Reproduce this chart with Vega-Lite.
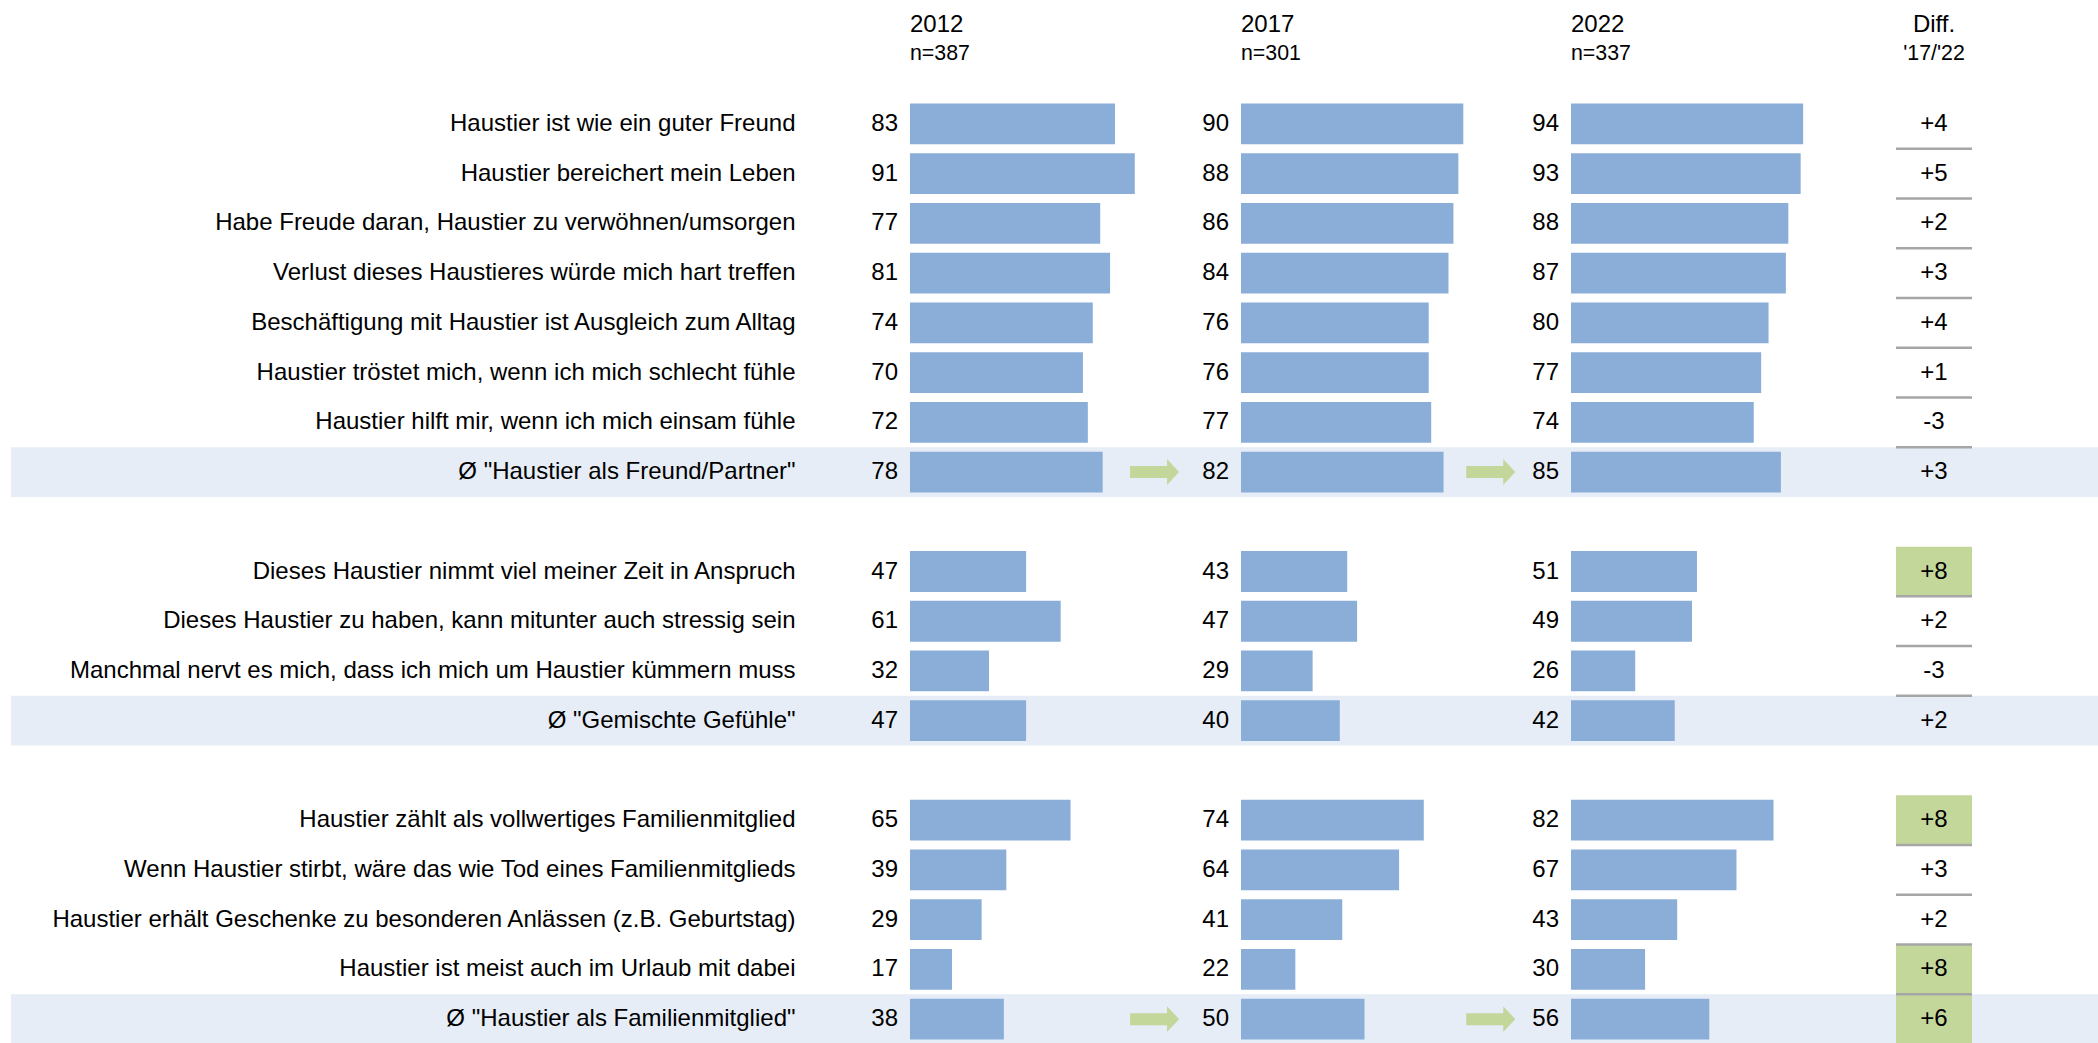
{
  "$schema": "https://vega.github.io/schema/vega-lite/v6.json",
  "padding": {"left": 11, "top": 12, "right": 0, "bottom": 0},
  "bounds": "flush",
  "spacing": 0,
  "config": {
    "font": "Liberation Sans",
    "view": {"stroke": null},
    "text": {"font": "Liberation Sans", "fontSize": 24, "color": "#000000"},
    "title": {"font": "Liberation Sans", "fontSize": 24, "fontWeight": "normal", "color": "#000000", "subtitleFont": "Liberation Sans", "subtitleFontSize": 21.33, "subtitleColor": "#000000", "offset": 35, "subtitlePadding": 6}
  },
  "datasets": {
    "rows": [
      {"item": "Haustier ist wie ein guter Freund", "v12": 83, "v17": 90, "v22": 94, "diff": "+4", "sig": false, "avg": false, "arrow": false},
      {"item": "Haustier bereichert mein Leben", "v12": 91, "v17": 88, "v22": 93, "diff": "+5", "sig": false, "avg": false, "arrow": false},
      {"item": "Habe Freude daran, Haustier zu verwöhnen/umsorgen", "v12": 77, "v17": 86, "v22": 88, "diff": "+2", "sig": false, "avg": false, "arrow": false},
      {"item": "Verlust dieses Haustieres würde mich hart treffen", "v12": 81, "v17": 84, "v22": 87, "diff": "+3", "sig": false, "avg": false, "arrow": false},
      {"item": "Beschäftigung mit Haustier ist Ausgleich zum Alltag", "v12": 74, "v17": 76, "v22": 80, "diff": "+4", "sig": false, "avg": false, "arrow": false},
      {"item": "Haustier tröstet mich, wenn ich mich schlecht fühle", "v12": 70, "v17": 76, "v22": 77, "diff": "+1", "sig": false, "avg": false, "arrow": false},
      {"item": "Haustier hilft mir, wenn ich mich einsam fühle", "v12": 72, "v17": 77, "v22": 74, "diff": "-3", "sig": false, "avg": false, "arrow": false},
      {"item": "Ø \"Haustier als Freund/Partner\"", "v12": 78, "v17": 82, "v22": 85, "diff": "+3", "sig": false, "avg": true, "arrow": true},
      {"item": "Dieses Haustier nimmt viel meiner Zeit in Anspruch", "v12": 47, "v17": 43, "v22": 51, "diff": "+8", "sig": true, "avg": false, "arrow": false},
      {"item": "Dieses Haustier zu haben, kann mitunter auch stressig sein", "v12": 61, "v17": 47, "v22": 49, "diff": "+2", "sig": false, "avg": false, "arrow": false},
      {"item": "Manchmal nervt es mich, dass ich mich um Haustier kümmern muss", "v12": 32, "v17": 29, "v22": 26, "diff": "-3", "sig": false, "avg": false, "arrow": false},
      {"item": "Ø \"Gemischte Gefühle\"", "v12": 47, "v17": 40, "v22": 42, "diff": "+2", "sig": false, "avg": true, "arrow": false},
      {"item": "Haustier zählt als vollwertiges Familienmitglied", "v12": 65, "v17": 74, "v22": 82, "diff": "+8", "sig": true, "avg": false, "arrow": false},
      {"item": "Wenn Haustier stirbt, wäre das wie Tod eines Familienmitglieds", "v12": 39, "v17": 64, "v22": 67, "diff": "+3", "sig": false, "avg": false, "arrow": false},
      {"item": "Haustier erhält Geschenke zu besonderen Anlässen (z.B. Geburtstag)", "v12": 29, "v17": 41, "v22": 43, "diff": "+2", "sig": false, "avg": false, "arrow": false},
      {"item": "Haustier ist meist auch im Urlaub mit dabei", "v12": 17, "v17": 22, "v22": 30, "diff": "+8", "sig": true, "avg": false, "arrow": false},
      {"item": "Ø \"Haustier als Familienmitglied\"", "v12": 38, "v17": 50, "v22": 56, "diff": "+6", "sig": true, "avg": true, "arrow": true}
    ]
  },
  "data": {"name": "rows"},
  "hconcat": [
    {
      "width": 899, "height": 945,
      "transform": [{"filter": "datum.avg"}],
      "mark": {"type": "rect", "color": "#E6EDF6"},
      "encoding": {
        "y": {"field": "item", "type": "nominal", "axis": null, "scale": {"type": "band", "paddingInner": 0, "paddingOuter": 0, "domain": ["Haustier ist wie ein guter Freund", "Haustier bereichert mein Leben", "Habe Freude daran, Haustier zu verwöhnen/umsorgen", "Verlust dieses Haustieres würde mich hart treffen", "Beschäftigung mit Haustier ist Ausgleich zum Alltag", "Haustier tröstet mich, wenn ich mich schlecht fühle", "Haustier hilft mir, wenn ich mich einsam fühle", "Ø \"Haustier als Freund/Partner\"", " ", "Dieses Haustier nimmt viel meiner Zeit in Anspruch", "Dieses Haustier zu haben, kann mitunter auch stressig sein", "Manchmal nervt es mich, dass ich mich um Haustier kümmern muss", "Ø \"Gemischte Gefühle\"", "  ", "Haustier zählt als vollwertiges Familienmitglied", "Wenn Haustier stirbt, wäre das wie Tod eines Familienmitglieds", "Haustier erhält Geschenke zu besonderen Anlässen (z.B. Geburtstag)", "Haustier ist meist auch im Urlaub mit dabei", "Ø \"Haustier als Familienmitglied\""]}}
      }
    },
    {
      "width": 331, "height": 945,
      "title": {"text": "2012", "subtitle": "n=387", "anchor": "start", "frame": "group"},
      "layer": [
        {"transform": [{"filter": "datum.avg"}], "mark": {"type": "rect", "color": "#E6EDF6"},
         "encoding": {"y": {"field": "item", "type": "nominal", "axis": {"orient": "left", "title": null, "domain": false, "ticks": false, "grid": false, "labelPadding": 115, "labelFontSize": 24, "labelFont": "Liberation Sans", "labelColor": "#000000", "labelLimit": 2000}, "scale": {"type": "band", "paddingInner": 0, "paddingOuter": 0, "domain": ["Haustier ist wie ein guter Freund", "Haustier bereichert mein Leben", "Habe Freude daran, Haustier zu verwöhnen/umsorgen", "Verlust dieses Haustieres würde mich hart treffen", "Beschäftigung mit Haustier ist Ausgleich zum Alltag", "Haustier tröstet mich, wenn ich mich schlecht fühle", "Haustier hilft mir, wenn ich mich einsam fühle", "Ø \"Haustier als Freund/Partner\"", " ", "Dieses Haustier nimmt viel meiner Zeit in Anspruch", "Dieses Haustier zu haben, kann mitunter auch stressig sein", "Manchmal nervt es mich, dass ich mich um Haustier kümmern muss", "Ø \"Gemischte Gefühle\"", "  ", "Haustier zählt als vollwertiges Familienmitglied", "Wenn Haustier stirbt, wäre das wie Tod eines Familienmitglieds", "Haustier erhält Geschenke zu besonderen Anlässen (z.B. Geburtstag)", "Haustier ist meist auch im Urlaub mit dabei", "Ø \"Haustier als Familienmitglied\""]}}}},
        {"mark": {"type": "bar", "height": {"band": 0.82}, "color": "#8AAED8"},
         "encoding": {"y": {"field": "item", "type": "nominal"}, "x": {"field": "v12", "type": "quantitative", "axis": null, "scale": {"domain": [0, 134], "nice": false, "zero": true}}}},
        {"mark": {"type": "text", "align": "right", "baseline": "middle", "dx": -12},
         "encoding": {"y": {"field": "item", "type": "nominal"}, "x": {"datum": 0, "type": "quantitative"}, "text": {"field": "v12", "type": "quantitative"}}}
      ]
    },
    {
      "width": 330, "height": 945,
      "title": {"text": "2017", "subtitle": "n=301", "anchor": "start", "frame": "group"},
      "layer": [
        {"transform": [{"filter": "datum.avg"}], "mark": {"type": "rect", "color": "#E6EDF6"},
         "encoding": {"y": {"field": "item", "type": "nominal", "axis": null, "scale": {"type": "band", "paddingInner": 0, "paddingOuter": 0, "domain": ["Haustier ist wie ein guter Freund", "Haustier bereichert mein Leben", "Habe Freude daran, Haustier zu verwöhnen/umsorgen", "Verlust dieses Haustieres würde mich hart treffen", "Beschäftigung mit Haustier ist Ausgleich zum Alltag", "Haustier tröstet mich, wenn ich mich schlecht fühle", "Haustier hilft mir, wenn ich mich einsam fühle", "Ø \"Haustier als Freund/Partner\"", " ", "Dieses Haustier nimmt viel meiner Zeit in Anspruch", "Dieses Haustier zu haben, kann mitunter auch stressig sein", "Manchmal nervt es mich, dass ich mich um Haustier kümmern muss", "Ø \"Gemischte Gefühle\"", "  ", "Haustier zählt als vollwertiges Familienmitglied", "Wenn Haustier stirbt, wäre das wie Tod eines Familienmitglieds", "Haustier erhält Geschenke zu besonderen Anlässen (z.B. Geburtstag)", "Haustier ist meist auch im Urlaub mit dabei", "Ø \"Haustier als Familienmitglied\""]}}}},
        {"mark": {"type": "bar", "height": {"band": 0.82}, "color": "#8AAED8"},
         "encoding": {"y": {"field": "item", "type": "nominal", "axis": null}, "x": {"field": "v17", "type": "quantitative", "axis": null, "scale": {"domain": [0, 133.6], "nice": false, "zero": true}}}},
        {"mark": {"type": "text", "align": "right", "baseline": "middle", "dx": -12},
         "encoding": {"y": {"field": "item", "type": "nominal", "axis": null}, "x": {"datum": 0, "type": "quantitative"}, "text": {"field": "v17", "type": "quantitative"}}},
        {"mark": {"type": "point", "shape": "M -1 -0.245 L 0.51 -0.245 L 0.51 -0.53 L 1 0 L 0.51 0.53 L 0.51 0.245 L -1 0.245 Z", "size": 2401, "filled": true, "color": "#C4D79B", "strokeWidth": 0},
         "encoding": {"y": {"field": "item", "type": "nominal", "axis": null}, "x": {"datum": -35, "type": "quantitative"}, "opacity": {"condition": {"test": "datum.arrow", "value": 1}, "value": 0}}}
      ]
    },
    {
      "width": 325, "height": 945,
      "title": {"text": "2022", "subtitle": "n=337", "anchor": "start", "frame": "group"},
      "layer": [
        {"transform": [{"filter": "datum.avg"}], "mark": {"type": "rect", "color": "#E6EDF6"},
         "encoding": {"y": {"field": "item", "type": "nominal", "axis": null, "scale": {"type": "band", "paddingInner": 0, "paddingOuter": 0, "domain": ["Haustier ist wie ein guter Freund", "Haustier bereichert mein Leben", "Habe Freude daran, Haustier zu verwöhnen/umsorgen", "Verlust dieses Haustieres würde mich hart treffen", "Beschäftigung mit Haustier ist Ausgleich zum Alltag", "Haustier tröstet mich, wenn ich mich schlecht fühle", "Haustier hilft mir, wenn ich mich einsam fühle", "Ø \"Haustier als Freund/Partner\"", " ", "Dieses Haustier nimmt viel meiner Zeit in Anspruch", "Dieses Haustier zu haben, kann mitunter auch stressig sein", "Manchmal nervt es mich, dass ich mich um Haustier kümmern muss", "Ø \"Gemischte Gefühle\"", "  ", "Haustier zählt als vollwertiges Familienmitglied", "Wenn Haustier stirbt, wäre das wie Tod eines Familienmitglieds", "Haustier erhält Geschenke zu besonderen Anlässen (z.B. Geburtstag)", "Haustier ist meist auch im Urlaub mit dabei", "Ø \"Haustier als Familienmitglied\""]}}}},
        {"mark": {"type": "bar", "height": {"band": 0.82}, "color": "#8AAED8"},
         "encoding": {"y": {"field": "item", "type": "nominal", "axis": null}, "x": {"field": "v22", "type": "quantitative", "axis": null, "scale": {"domain": [0, 131.6], "nice": false, "zero": true}}}},
        {"mark": {"type": "text", "align": "right", "baseline": "middle", "dx": -12},
         "encoding": {"y": {"field": "item", "type": "nominal", "axis": null}, "x": {"datum": 0, "type": "quantitative"}, "text": {"field": "v22", "type": "quantitative"}}},
        {"mark": {"type": "point", "shape": "M -1 -0.245 L 0.51 -0.245 L 0.51 -0.53 L 1 0 L 0.51 0.53 L 0.51 0.245 L -1 0.245 Z", "size": 2401, "filled": true, "color": "#C4D79B", "strokeWidth": 0},
         "encoding": {"y": {"field": "item", "type": "nominal", "axis": null}, "x": {"datum": -32.5, "type": "quantitative"}, "opacity": {"condition": {"test": "datum.arrow", "value": 1}, "value": 0}}}
      ]
    },
    {
      "width": 76, "height": 945,
      "title": {"text": "Diff.", "subtitle": "'17/'22", "anchor": "middle", "frame": "group"},
      "layer": [
        {"transform": [{"filter": "datum.avg"}], "mark": {"type": "rect", "color": "#E6EDF6"},
         "encoding": {"y": {"field": "item", "type": "nominal", "axis": null, "scale": {"type": "band", "paddingInner": 0, "paddingOuter": 0, "domain": ["Haustier ist wie ein guter Freund", "Haustier bereichert mein Leben", "Habe Freude daran, Haustier zu verwöhnen/umsorgen", "Verlust dieses Haustieres würde mich hart treffen", "Beschäftigung mit Haustier ist Ausgleich zum Alltag", "Haustier tröstet mich, wenn ich mich schlecht fühle", "Haustier hilft mir, wenn ich mich einsam fühle", "Ø \"Haustier als Freund/Partner\"", " ", "Dieses Haustier nimmt viel meiner Zeit in Anspruch", "Dieses Haustier zu haben, kann mitunter auch stressig sein", "Manchmal nervt es mich, dass ich mich um Haustier kümmern muss", "Ø \"Gemischte Gefühle\"", "  ", "Haustier zählt als vollwertiges Familienmitglied", "Wenn Haustier stirbt, wäre das wie Tod eines Familienmitglieds", "Haustier erhält Geschenke zu besonderen Anlässen (z.B. Geburtstag)", "Haustier ist meist auch im Urlaub mit dabei", "Ø \"Haustier als Familienmitglied\""]}}}},
        {"transform": [{"filter": "datum.sig"}], "mark": {"type": "rect", "color": "#C4D79B"},
         "encoding": {"y": {"field": "item", "type": "nominal", "axis": null}}},
        {"transform": [{"filter": "!datum.avg"}], "mark": {"type": "rule", "color": "#A6A6A6", "strokeWidth": 2.5},
         "encoding": {"y": {"field": "item", "type": "nominal", "axis": null, "bandPosition": 1}}},
        {"mark": {"type": "text", "align": "center", "baseline": "middle"},
         "encoding": {"y": {"field": "item", "type": "nominal", "axis": null}, "text": {"field": "diff", "type": "nominal"}}}
      ]
    },
    {
      "width": 126, "height": 945,
      "transform": [{"filter": "datum.avg"}],
      "mark": {"type": "rect", "color": "#E6EDF6"},
      "encoding": {
        "y": {"field": "item", "type": "nominal", "axis": null, "scale": {"type": "band", "paddingInner": 0, "paddingOuter": 0, "domain": ["Haustier ist wie ein guter Freund", "Haustier bereichert mein Leben", "Habe Freude daran, Haustier zu verwöhnen/umsorgen", "Verlust dieses Haustieres würde mich hart treffen", "Beschäftigung mit Haustier ist Ausgleich zum Alltag", "Haustier tröstet mich, wenn ich mich schlecht fühle", "Haustier hilft mir, wenn ich mich einsam fühle", "Ø \"Haustier als Freund/Partner\"", " ", "Dieses Haustier nimmt viel meiner Zeit in Anspruch", "Dieses Haustier zu haben, kann mitunter auch stressig sein", "Manchmal nervt es mich, dass ich mich um Haustier kümmern muss", "Ø \"Gemischte Gefühle\"", "  ", "Haustier zählt als vollwertiges Familienmitglied", "Wenn Haustier stirbt, wäre das wie Tod eines Familienmitglieds", "Haustier erhält Geschenke zu besonderen Anlässen (z.B. Geburtstag)", "Haustier ist meist auch im Urlaub mit dabei", "Ø \"Haustier als Familienmitglied\""]}}
      }
    }
  ]
}
